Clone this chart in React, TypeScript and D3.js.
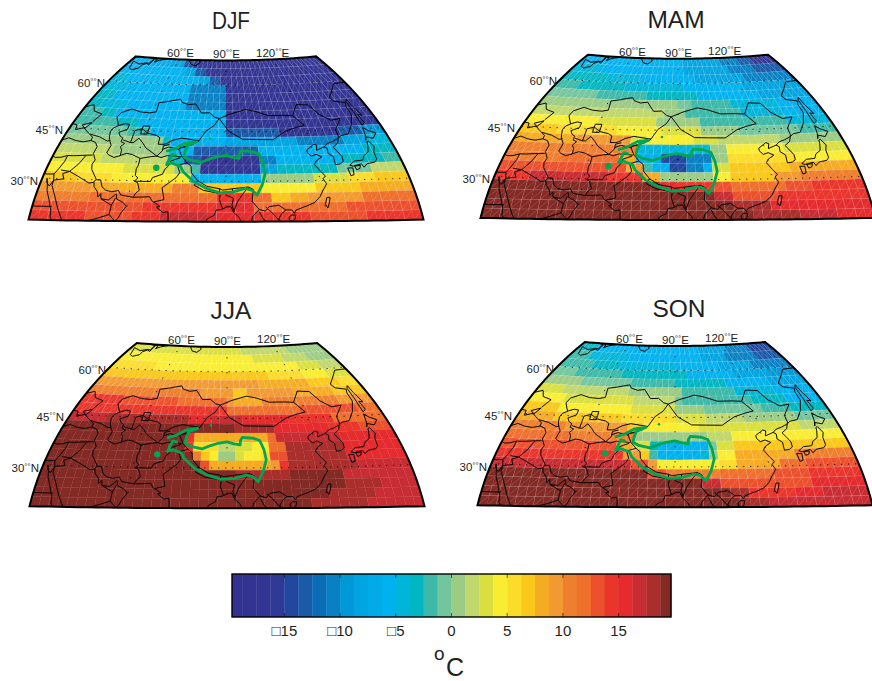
import React from 'react';
import * as d3 from 'd3';

// seasonal temperature in deg C, top row (68N) to bottom row (18N), west to east.
// each row is run length coded: value, number of cells, value, number of cells...
const DJF = [
  [-6,5,-7,4,-8,3,-13,2,-17,28],
  [-6,13,-8,2,-13,2,-17,25],
  [-4.5,3,-6,13,-8,2,-13,2,-17,22],
  [-4.5,4,-6,11,-10.5,6,-17,21],
  [-3,3,-6,12,-10.5,6,-17,21],
  [-3,2,-4.5,4,-6,9,-10.5,6,-17,21],
  [-2,3,-3,2,-6,16,-17,21],
  [-2,6,-3,3,-6,12,-17,21],
  [-0.5,8,-2,3,-6,10,-13,7,-17,8,-13,3,-10,3],
  [0.5,13,-3,1,-6,7,-8,9,-10.5,6,-8,3,-4.5,3],
  [2,7,0.5,7,-6,3,-13,8,-6,13,-3,4],
  [3,6,2,8,-3,2,-13,2,-17,7,-10.5,2,-6,8,-3,5,-2,2],
  [4.5,9,3,6,0.5,2,-2,1,-17,7,-8,2,-3,7,-0.5,4,2,4],
  [7,4,5.5,4,4.5,9,-6,8,0.5,6,3,4,5.5,3,7,4],
  [9,6,8,9,10.5,3,7,7,4.5,6,7,5,8,6],
  [10.5,6,12,14,14.5,4,12,2,7,2,8,2,9,6,12,6],
  [13,12,14.5,8,15.5,4,12,10,13,8],
  [14.5,6,13,5,14.5,3,17,5,15.5,5,14.5,6,13,6,14.5,6],
];
const MAM = [
  [-6,22,-8,8,-10.5,4,-13,3,-17,5],
  [-4.5,6,-6,16,-8,9,-10.5,5,-13,6],
  [-3,8,-4.5,6,-6,10,-8,9,-10.5,9],
  [-2,4,-3,8,-4.5,10,-6,10,-8,10],
  [-0.5,8,-2,8,-3,8,-6,10,-8,8],
  [0.5,21,-0.5,2,-2,6,-4.5,7,-6,6],
  [2,19,0.5,3,-2,8,-4.5,6,-6,6],
  [4.5,10,3,8,0.5,6,-2,12,-4.5,6],
  [7,5,5.5,8,4.5,6,3,5,0.5,5,-0.5,8,-2,5],
  [8,8,9,7,3,2,4.5,6,3,3,2,8,0.5,8],
  [10.5,16,-5,9,0.5,2,4.5,7,3,8],
  [10.5,7,12,7,8,2,-6,3,-14.5,3,-10.5,3,0.5,2,5.5,8,4.5,7],
  [13,15,8,1,9,1,-2,1,-6,2,-14.5,2,-10.5,2,-6,1,3,2,7,7,8,8],
  [14.5,4,17,9,14.5,4,8,2,0.5,6,4.5,2,7,5,9,3,10.5,7],
  [19,19,15.5,2,14.5,4,13,2,12,6,13,3,14.5,6],
  [19,25,17,2,13,5,14.5,10],
  [19,27,18,4,15.5,11],
  [19,29,18,5,17,4,15.5,4],
];
const JJA = [
  [3,24,2,10,0.5,8],
  [4.5,26,3,6,2,5,0.5,5],
  [5.5,8,4.5,26,3,4,2,4],
  [7,28,5.5,6,4.5,4,3,4],
  [9,26,8,8,7,5,5.5,3],
  [10.5,17,9,5,7,2,9,7,8,6,7,5],
  [14.5,6,13,8,12,7,9,1,8,4,10.5,11,9,5],
  [14.5,21,12,10,13,8,12,8],
  [17,5,18,11,15,3,17,4,15,6,14.5,6,12,7],
  [19,22,18,5,15.5,7,14.5,4,13,4],
  [19,16,14.5,1,8,9,12,1,17,8,15.5,7],
  [19,16,14.5,1,5.5,3,2,2,3,2,4.5,2,12,2,18,7,15.5,7],
  [19,17,10.5,1,7,1,4.5,1,0.5,2,3,1,4.5,2,5.5,1,13,2,18,7,15.5,7],
  [19,18,13,1,8,7,9,1,14.5,1,18,8,17,6],
  [19,22,18,6,19,6,17,8],
  [19,34,18,4,17,4],
  [19,32,18,5,17,5],
  [19,30,18,6,17,6],
];
const SON = [
  [-3,4,-6,22,-8,6,-10.5,5,-14.5,5],
  [-2,4,-4.5,8,-6,14,-8,5,-10.5,6,-13,5],
  [-2,6,-3,5,-4.5,10,-6,8,-8,6,-10.5,7],
  [-0.5,4,-2,8,-3,11,-6,8,-8,6,-9.5,5],
  [0.5,6,-0.5,8,-2,7,-3,8,-6,7,-8,6],
  [3,4,2,10,0.5,8,-2,8,-4.5,6,-6,6],
  [4.5,5,3,10,2,6,-0.5,1,-2,10,-3,5,-6,5],
  [7,5,4.5,10,3,6,0.5,4,-0.5,8,-2,4,-3,5],
  [8,5,7,9,5.5,7,3,4,2,5,0.5,7,-0.5,5],
  [10.5,7,9,8,7,2,4.5,7,3,13,2,5],
  [12,8,10.5,8,0.5,9,2,3,4.5,14],
  [13,14,8,2,3,2,-3,1,-6,6,-0.5,1,3,2,7,14],
  [14.5,15,9,2,7,1,-2,1,-6,5,-4.5,1,0.5,1,4.5,2,8,7,10.5,7],
  [17,16,13,2,9,1,4.5,7,5.5,2,8,5,12,3,13,6],
  [19,18,13,2,10.5,6,12,6,13,4,14.5,6],
  [19,24,17,2,13,10,15.5,6],
  [19,27,18,2,14.5,5,15.5,3,17,5],
  [19,28,18,3,17,11],
];

const seasons = ['DJF', 'MAM', 'JJA', 'SON'];
const seasonRows = [DJF, MAM, JJA, SON];

// T42 grid vertices
const latEdges = [68.37, 65.6, 62.8, 60, 57.21, 54.42, 51.63, 48.84, 46.05, 43.26, 40.47, 37.68, 34.89, 32.1, 29.3, 26.51, 23.72, 20.93, 18.14];
const lonEdges = d3.range(0, 43).map(i => 30.9375 + i * 2.8125);

const colorStops = d3.range(1, 32).map(i => -20 + i * 1.25);
const colors = [
  '#323290', '#333391', '#333592', '#2e3a96', '#21479f', '#1a5aa9', '#0a6db5', '#0880c3',
  '#0098d6', '#00a4e0', '#00abe8', '#00b1ef', '#00b5d9', '#00b6c2', '#3cb9a8', '#72c59d',
  '#9ccb84', '#bfd76c', '#dadf3f', '#f9ed32', '#fbdc2a', '#f9c81a', '#f5ab22', '#f29a32',
  '#ee7f2e', '#ef6f2d', '#ec512d', '#e9352b', '#e52b2e', '#c92d34', '#a92e2c', '#842a24',
];
const barTicks = [-15, -10, -5, 0, 5, 10, 15];
const latTicks = [30, 45, 60];
const lonTicks = [60, 90, 120];

// coastlines and lakes, lon/lat
const coasts = [
  [[40,68.37],[44,68],[43.5,66.5],[41,66.5],[38,66],[35,66.5],[33,66.8],[34.8,64.5],[37,64],[40,64.7],[40,65.7],[42,66.4],[44,66],[44.3,68],[46,68],[46,67],[48,67.7],[53,68.37]],
  [[68,68.37],[67,68],[69,66.8],[72,66.4],[74,67.5],[73,68.37]],
  [[47.5,45.6],[49.2,46.4],[51.2,47],[53,46.8],[53,45.3],[51.2,44.6],[50.3,44.3],[51.3,43.2],[52.6,42.6],[52.5,41.5],[54,41],[53,40],[53.8,38.9],[54,37.3],[52,36.7],[50,37.4],[49,38],[49.5,40.3],[48,42],[47.5,43],[47,44.5],[47.5,45.6]],
  [[58.5,46.5],[61,46.5],[61,44],[58.5,44],[58.5,46.5]],
  [[30.9,46.2],[33,46],[33.6,44.5],[35.5,45],[37,45.3],[38.2,46.9],[35,46],[36.8,45],[38,44.3],[41.5,42.5],[41.5,41.5],[39,41],[36,41.3],[33,42],[31,41.2]],
  [[31,31.3],[32,31.2],[34.2,31.3],[35,32.8],[35.9,35],[36,36.8],[34,36.2],[32,36.1],[31,36.5]],
  [[32.5,30],[33.5,28],[34,26.5],[35.5,24],[37,21],[37.3,19],[38,18.14]],
  [[32.5,30],[33,28.8],[34.2,27.8],[34.9,29.5],[35,28],[37,25],[39,21.5],[40.5,19],[41.2,18.14]],
  [[48,29.5],[48.5,28],[50,26.5],[50.5,25],[51.2,26],[51.6,24.5],[54,24.2],[56,26],[56.5,24.5],[58.7,23.5],[59.8,22.4],[58.5,20.5],[57.8,18.9],[57,18.14]],
  [[48,29.5],[48.6,30],[50,30],[51,28],[52.5,27],[54.5,26.6],[56.5,27],[57.5,25.7],[61.5,25.1],[66.5,25.3],[67.5,24],[68.5,23.5],[70,22.5],[69,22.3],[71,20.8],[72.6,21],[72.8,19],[72.8,18.14]],
  [[84,18.14],[84.5,19],[86.5,20],[87,21.5],[88.5,21.7],[90.5,22.5],[91.5,22.5],[92.3,20.8],[93.8,19.5],[94.5,18.14]],
  [[106,18.14],[105.7,19],[106.7,20.5],[108,21.5],[109.8,21.5],[110.5,20.5],[111,21.4],[113.5,22.3],[114.5,22.6],[117,23.6],[119,25.3],[120,26.8],[121.8,29],[121,30.5],[122,31.3],[120.8,32.7],[119.3,34.8],[120.5,36],[122.5,37],[120.8,37.8],[119,37.3],[118,38.3],[118,39.2],[121,40.8],[122,40.5],[121.3,39],[124.4,40],[125.3,39.5],[125,38],[126.5,37],[126.3,34.6],[128,34.8],[129.3,35.5],[129.4,37],[128.3,38.7],[127.5,39.8],[129.7,41],[130.6,42.4],[132,43.2],[135,43.6],[138,46.3],[140.5,49.5],[140.5,52],[141.3,53.2],[137,53.8],[136,55],[140,57.5],[143,59.3],[149,59.5]],
  [[108.8,19.3],[109.5,20],[110.8,20],[110.5,18.8],[109.5,18.2],[108.8,18.6],[108.8,19.3]],
  [[120.2,23],[121,25],[122,25],[121.5,23.5],[120.8,22],[120.2,23]],
  [[142,46],[143.5,46.8],[143,49.3],[144.5,49],[143.3,52],[143,54.3],[142,53.5],[142,50],[142,46]],
  [[140.2,41.5],[141,43],[141.7,45.4],[143,44.4],[145.3,43.5],[143.3,42],[141,42.5],[140.2,41.5]],
  [[141,41.3],[142,39.5],[141,38],[140.8,35.8],[139.8,35],[137,34.6],[135.5,33.6],[135,34.6],[132,34],[131,34.3],[133,35.5],[136,35.7],[137,37],[139,38],[140,40],[140.3,41],[141,41.3]],
  [[130,33.5],[131.7,33.5],[131.4,31.5],[130.3,31.2],[130,33.5]],
  [[132.5,34],[134.5,34.2],[134,33.3],[132.8,32.9],[132.5,34]],
];

// country borders, lon/lat
const borders = [
  [[44.8,39.7],[44.5,37.7],[46,35.8],[45.5,34.5],[46,33],[47.8,31],[48.6,30]],
  [[36,36.8],[38,36.8],[42.3,37.1],[44.5,37.2]],
  [[41.5,41.5],[43.5,41],[44.8,39.7]],
  [[40,43.4],[44,42.7],[47.5,41.5],[48.5,41.8]],
  [[42.3,37.1],[41,34.5],[39,32.2],[42,31],[46.5,29],[48,29.2]],
  [[39,32.2],[37,31.5],[38,30],[34.9,29.5],[34.2,31.3]],
  [[36,32.5],[39,32.2]],
  [[51.6,24.5],[55.2,22.7],[55,20],[52,19],[49,18.14]],
  [[55.2,22.7],[55.8,24],[56,24.8]],
  [[55,20],[57,18.14]],
  [[31,22],[37,22]],
  [[53.8,37.3],[56,38],[58,37.7],[61,36.6],[61,34.5],[60.6,33.5],[60.8,31.5],[61.8,30.8],[60.9,29.8],[62,29.4],[63,27.2],[62,26.3],[61.5,25.1]],
  [[60.9,29.8],[66,29.8],[66.5,31],[69.5,32],[70,33.5],[71,34.5],[71.5,36],[74.5,37]],
  [[61,36.6],[64.5,37.2],[66.5,37.4],[68,37],[70,37.6],[71.5,37.5],[74.5,37.3],[75,37.4]],
  [[53,42],[56,41.3],[57,41.3],[58.5,42.7],[60.5,41.2],[62,39.8],[64.5,38.5],[66.5,37.4]],
  [[56,41.3],[56,45],[58.5,45.6],[61,44.3],[64.5,43.7],[66,43],[66,41],[68,41],[69,41.3],[71,42.3],[74,43],[80.3,42.2]],
  [[68,39.5],[70,40.2],[73.7,39.5],[74,40],[76,40.3],[80.3,42.2]],
  [[66.5,37.4],[68,39],[68,40.5],[70,41]],
  [[49,46.3],[47,48.5],[46.7,49],[47.5,50.4],[51,51.6],[55,50.8],[59,50.6],[61.5,51],[61,53.9],[65,54.4],[70,55.2],[71,54.2],[74,53.5],[77,53.8],[80,50.9],[83.3,51],[85.5,49.6],[87.3,49.2]],
  [[34,52.3],[36,50.4],[40,49.6],[38.2,47.2]],
  [[31,51.5],[34,52.3]],
  [[87.3,49.2],[92,50.7],[98,52],[102,51.4],[107,50],[113,50],[116.7,49.8],[119.9,46.7],[116,46],[112,45],[107,42.5],[101,42.6],[96,42.7],[91,45.2],[88,48.5],[87.3,49.2]],
  [[116.7,49.8],[120,53.3],[125,53],[127.5,50],[131,48],[135,48.4],[131,45],[131,43],[130.6,42.4],[128,41.5],[126,41],[124.4,40]],
  [[87.3,49.2],[85.5,47],[82.5,45.2],[80.3,42.2],[78,41],[74,40],[73.7,39.5],[75,37.4],[77,35.5],[78.5,34.5],[78.8,32.5],[81,30.2],[84,28.5],[88,27.8],[89,27.4],[92,27.8],[97,28.3],[98.5,27.6],[98,24],[100,21.7],[101.8,21.2],[103,22.5],[106,22.9],[108,21.5]],
  [[68,23.8],[71,24.5],[70,28],[74,31],[75,32.5],[74,34.7],[77,35.5]],
  [[81,30.2],[80,28.8],[83,27.3],[88,26.4],[88,27.8]],
  [[88,26.4],[88.5,26.5],[92,26.8],[92,27.8]],
  [[88.2,26],[88,24.5],[88.9,22]],
  [[89.8,26],[92.3,25],[91.8,23],[92.5,21]],
  [[97,28.3],[95,26],[93.5,24],[92.5,21.5]],
  [[100,21.7],[98,19.7],[97.5,18.14]],
  [[100,21],[101,19],[102,18.14]],
  [[102,22.4],[104,20.5],[106,18.14]],
];

// plateau outline and two small patches
const plateau = [[69.3,38.9],[72,39.6],[75.6,41.4],[79.6,41.9],[76.5,40.8],[76,39.4],[75.7,37.4],[77.8,36.4],[81.7,35.7],[84.5,36.7],[87,37.4],[90,37.8],[92.4,37.2],[94.4,36.9],[94.6,38.2],[95.3,39.2],[99,38.9],[101.2,38.2],[102.3,35.4],[102.7,32.4],[101.4,28.9],[99.6,25.9],[98,27.4],[96,27.9],[92.3,26.9],[88.1,26.6],[83.8,27.9],[79.7,29.9],[76,32.9],[75,34.4],[71.9,35.4],[70.3,34.9],[71.5,38],[73.3,37.6]];
const plateauDots = [[67.1,33.9,3.2],[84.2,42.9,1.3]];

const panelPos = [
  {cx: 226, bottom: 221.7, titleX: 231, titleY: 29, titleLength: 38},
  {cx: 678, bottom: 220, titleX: 676, titleY: 28},
  {cx: 227, bottom: 508.3, titleX: 231, titleY: 319},
  {cx: 675, bottom: 507.3, titleX: 679, titleY: 317},
];

// hammer projection, m_map style
const hammerRaw = (l: number, p: number) => {
  const d = Math.sqrt(1 + Math.cos(p) * Math.cos(l / 2));
  return [1.01 * 2 * Math.SQRT2 * Math.cos(p) * Math.sin(l / 2) / d, Math.SQRT2 * Math.sin(p) / d];
};

const expand = (row: number[]) => {
  const out: number[] = [];
  for (let i = 0; i < row.length; i += 2) {
    for (let k = 0; k < row[i + 1]; k++) out.push(row[i]);
  }
  return out;
};

const colorScale = d3.scaleThreshold<number, string>().domain(colorStops).range(colors);

const Deg = ({size}: {size: number}) => <tspan fontSize={size} dy={-3}>°°</tspan>;

const Panel = ({index}: {index: number}) => {
  const pos = panelPos[index];
  const rows = seasonRows[index];
  const projection = d3.geoProjection(hammerRaw as any)
    .rotate([-90, 0])
    .scale(199.5)
    .translate([pos.cx, pos.bottom + 199.5 * 0.3153])
    .precision(0.3);
  const pt = (lon: number, lat: number) => projection([lon, lat]) as [number, number];
  const geo = d3.geoPath(projection);

  const west = lonEdges[0];
  const east = lonEdges[lonEdges.length - 1];
  const south = latEdges[latEdges.length - 1];
  const north = latEdges[0];
  const line = d3.line();
  const frame: [number, number][] = [
    ...d3.range(0, 41).map(i => pt(west + ((east - west) * i) / 40, north)),
    ...d3.range(1, 21).map(i => pt(east, north + ((south - north) * i) / 20)),
    ...d3.range(1, 41).map(i => pt(east - ((east - west) * i) / 40, south)),
    ...d3.range(1, 20).map(i => pt(west, south + ((north - south) * i) / 20)),
  ];
  const framePath = line(frame) + 'Z';

  let mesh = '';
  const cells: {d: string; fill: string}[] = [];
  rows.forEach((row, r) => {
    expand(row).forEach((v, c) => {
      const a = pt(lonEdges[c], latEdges[r + 1]);
      const b = pt(lonEdges[c + 1], latEdges[r + 1]);
      const e = pt(lonEdges[c + 1], latEdges[r]);
      const f = pt(lonEdges[c], latEdges[r]);
      cells.push({d: line([a, b, e, f]) + 'Z', fill: colorScale(v)});
      mesh += line([b, a, e]) + (r % 2 === 0 || c % 2 === 0 ? line([a, f]) : '');
    });
  });

  const parallels = latTicks.map(lat => d3.range(west, east + 1, 2).map(lon => [lon, lat]));
  const meridians = lonTicks.map(lon => d3.range(south, north + 1, 2).map(lat => [lon, lat]));
  const clipId = `frame-${index}`;

  return (
    <g>
      <clipPath id={clipId}><path d={framePath} /></clipPath>
      {cells.map((c, i) => <path key={i} d={c.d} fill={c.fill} stroke={c.fill} strokeWidth={0.3} />)}
      <path d={mesh} fill="none" stroke="#fff" strokeOpacity={0.28} strokeWidth={0.5} />
      <g clipPath={`url(#${clipId})`} fill="none">
        <path d={geo({type: 'MultiLineString', coordinates: parallels} as any) as string} stroke="#000" strokeWidth={1} strokeDasharray="1 6" />
        <path d={geo({type: 'MultiLineString', coordinates: meridians} as any) as string} stroke="#000" strokeWidth={1} strokeDasharray="1 14" />
        <path d={geo({type: 'MultiLineString', coordinates: coasts} as any) as string} stroke="#000" strokeWidth={0.95} />
        <path d={geo({type: 'MultiLineString', coordinates: borders} as any) as string} stroke="#000" strokeWidth={0.95} />
        <path d={geo({type: 'LineString', coordinates: plateau} as any) as string} stroke="#00a651" strokeWidth={2.8} strokeLinejoin="round" />
        {plateauDots.map((d, i) => {
          const p = pt(d[0], d[1]);
          return <circle key={i} cx={p[0]} cy={p[1]} r={d[2]} fill="#00a651" />;
        })}
      </g>
      <path d={framePath} fill="none" stroke="#000" strokeWidth={2} />
      <text x={pos.titleX} y={pos.titleY} textAnchor="middle" fontSize={24.5} fill="#231f20" textLength={pos.titleLength} lengthAdjust={pos.titleLength ? 'spacingAndGlyphs' : undefined}>{seasons[index]}</text>
      {lonTicks.map((lon, i) => (
        <text key={lon} x={pos.cx + [-59, -13, 30][i]} y={pos.bottom - 164.5 + [0, 1, -0.5][i]} fontSize={11.5} fill="#231f20">
          {lon}<Deg size={8} /><tspan dy={3}>E</tspan>
        </text>
      ))}
      {latTicks.map((lat, i) => (
        <text key={lat} x={pos.cx + [-188, -163, -121][i]} y={pos.bottom + [-36.7, -87.7, -134.7][i]} fontSize={11.5} fill="#231f20" textAnchor="end">
          {lat}<Deg size={8} /><tspan dy={3}>N</tspan>
        </text>
      ))}
    </g>
  );
};

const ColorBar = () => {
  const x = d3.scaleLinear().domain([-19.7, 19.7]).range([232, 671]);
  const top = 574;
  const bottom = 617;
  return (
    <g>
      {colors.map((c, i) => {
        const v0 = Math.max(-19.7, -20 + i * 1.25);
        const v1 = Math.min(19.7, -20 + (i + 1) * 1.25);
        return <rect key={i} x={x(v0)} y={top} width={x(v1) - x(v0) + 0.3} height={bottom - top} fill={c} />;
      })}
      <rect x={232} y={top} width={439} height={bottom - top} fill="none" stroke="#000" strokeWidth={1.4} />
      {barTicks.map(t => (
        <g key={t}>
          <line x1={x(t)} x2={x(t)} y1={top} y2={top + 4} stroke="#000" strokeWidth={0.6} />
          <line x1={x(t)} x2={x(t)} y1={bottom} y2={bottom - 4} stroke="#000" strokeWidth={0.6} />
          <text x={x(t)} y={636} textAnchor="middle" fontSize={15} fill="#231f20">{t < 0 ? `□${-t}` : t}</text>
        </g>
      ))}
      <text x={434} y={660} fontSize={19} fill="#231f20">o</text>
      <text x={446} y={675.5} fontSize={25} fill="#231f20">C</text>
    </g>
  );
};

export default function App() {
  return (
    <svg width={872} height={681} style={{position: 'absolute', left: 0, top: 0, fontFamily: '"Liberation Sans", Arial, sans-serif'}}>
      {seasons.map((s, i) => <Panel key={s} index={i} />)}
      <ColorBar />
    </svg>
  );
}
